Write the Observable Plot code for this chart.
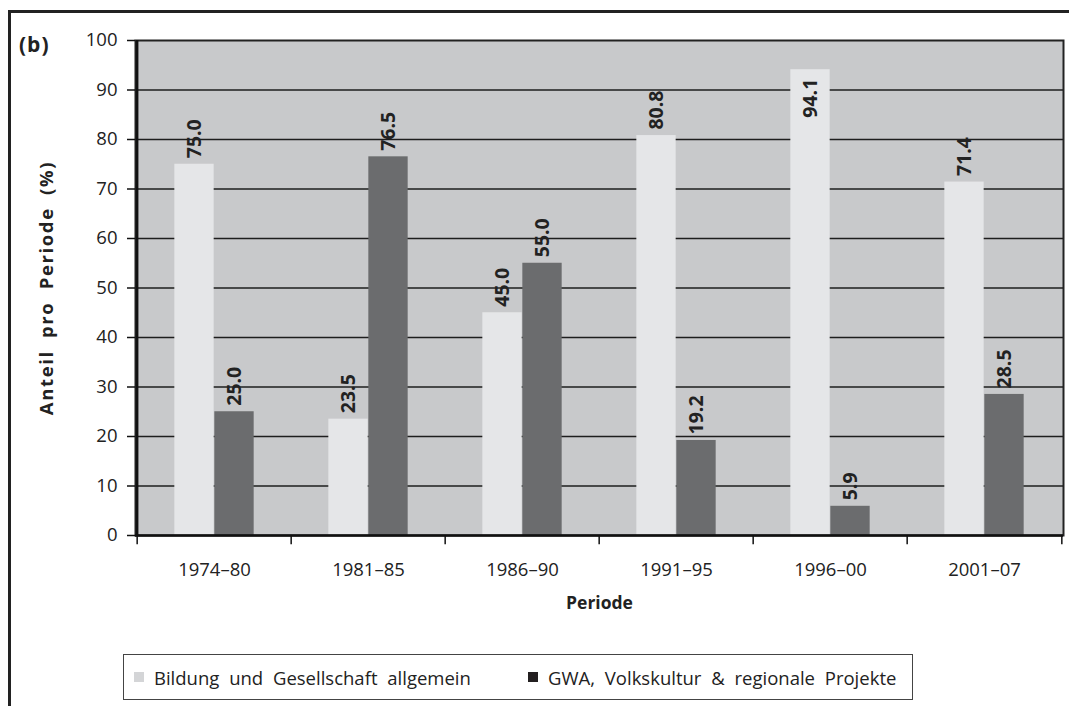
<!DOCTYPE html>
<html>
<head>
<meta charset="utf-8">
<script src="https://cdn.jsdelivr.net/npm/d3@7"></script>
<script src="https://cdn.jsdelivr.net/npm/@observablehq/plot@0.6"></script>
<style>
  html, body { margin: 0; padding: 0; background: #fff; }
  body { width: 1069px; height: 706px; position: relative; overflow: hidden; font-family: "Open Sans", sans-serif; color: #222; }
  #outer { position: absolute; left: 8px; top: 10px; width: 1069px; height: 700px; border-left: 3px solid #222; border-top: 3px solid #222; pointer-events: none; }
  #panel { position: absolute; left: 19px; top: 30px; font-weight: bold; font-size: 21px; letter-spacing: 1px; }
  #chart { position: absolute; left: 0; top: 0; }
  #legend { position: absolute; left: 123px; top: 654px; width: 790px; height: 46px; border: 1.5px solid #444; box-sizing: border-box; font-size: 18.5px; word-spacing: 5px; }
  .item { display: flex; align-items: center; position: absolute; top: 0; height: 100%; }
  .sw { width: 10px; height: 10px; margin-right: 10px; }
</style>
</head>
<body>
<div id="chart"></div>
<div id="outer"></div>
<div id="panel">(b)</div>
<div id="legend"></div>
<script>
const periods = ["1974–80", "1981–85", "1986–90", "1991–95", "1996–00", "2001–07"];
const bildung = [75.0, 23.5, 45.0, 80.8, 94.1, 71.4];
const gwa = [25.0, 76.5, 55.0, 19.2, 5.9, 28.5];
const labelsA = ["75.0", "23.5", "45.0", "80.8", "94.1", "71.4"];
const labelsB = ["25.0", "76.5", "55.0", "19.2", "5.9", "28.5"];
const seriesNames = ["Bildung und Gesellschaft allgemein", "GWA, Volkskultur & regionale Projekte"];
const seriesColors = ["#e5e6e8", "#6b6c6e"];
const legendColors = ["#d4d5d7", "#231f20"];
const yTicks = [0, 10, 20, 30, 40, 50, 60, 70, 80, 90, 100];
const gridTicks = [10, 20, 30, 40, 50, 60, 70, 80, 90];
const yTitle = "Anteil pro Periode (%)";
const xTitle = "Periode";

const dataA = periods.map((p, i) => ({period: p, value: bildung[i], label: labelsA[i]}));
const dataB = periods.map((p, i) => ({period: p, value: gwa[i], label: labelsB[i]}));
// labels that do not fit above the bar go inside it
const fitsAbove = d => d.value < 90;

const W = 1069, H = 640, mL = 135, mR = 6, mT = 40, mB = 105;
const step = (W - mL - mR) / periods.length;
const barW = 40;
const half = step / 2;

const labelStyle = {text: "label", rotate: -90, fontWeight: "bold", fontSize: 19.5, fill: "#222"};

const chart = Plot.plot({
  width: W, height: H,
  marginLeft: mL, marginRight: mR, marginTop: mT, marginBottom: mB,
  style: {fontFamily: "Open Sans", fontSize: "18.5px", color: "#222", background: "transparent", overflow: "visible"},
  x: {domain: periods, type: "band", paddingInner: 0, paddingOuter: 0, label: null},
  y: {domain: [0, 100], label: null},
  marks: [
    Plot.frame({fill: "#c8c9cb", stroke: null}),
    Plot.gridY(gridTicks, {stroke: "#1e1e1e", strokeOpacity: 1, strokeWidth: 1.3}),
    Plot.barY(dataA, {x: "period", y: "value", fill: seriesColors[0], insetLeft: half - barW, insetRight: half}),
    Plot.barY(dataB, {x: "period", y: "value", fill: seriesColors[1], insetLeft: half, insetRight: half - barW}),
    Plot.text(dataA.filter(fitsAbove), {x: "period", y: "value", dx: -barW / 2, dy: -6, textAnchor: "start", ...labelStyle}),
    Plot.text(dataA.filter(d => !fitsAbove(d)), {x: "period", y: "value", dx: -barW / 2, dy: 9, textAnchor: "end", ...labelStyle}),
    Plot.text(dataB.filter(fitsAbove), {x: "period", y: "value", dx: barW / 2, dy: -6, textAnchor: "start", ...labelStyle}),
    Plot.text(dataB.filter(d => !fitsAbove(d)), {x: "period", y: "value", dx: barW / 2, dy: 9, textAnchor: "end", ...labelStyle}),
    Plot.frame({stroke: "#222", strokeWidth: 2}),
    Plot.ruleY([0], {stroke: "#111", strokeWidth: 2.5}),
    Plot.ruleX([periods[0]], {dx: -half, stroke: "#111", strokeWidth: 2.5}),
    Plot.ruleX(periods, {x: d => d, dx: -half, y1: 0, y2: -1.85, stroke: "#111", strokeWidth: 1.5}),
    Plot.ruleX([periods[periods.length - 1]], {dx: half, y1: 0, y2: -1.85, stroke: "#111", strokeWidth: 1.5}),
    Plot.axisY(yTicks, {tickSize: 8, tickPadding: 10, stroke: "#111", strokeWidth: 1.5, label: null, fill: "#222"}),
    Plot.axisX({tickSize: 0, tickPadding: 27, label: null, fill: "#222"}),
    Plot.text([yTitle], {frameAnchor: "left", dx: -88, rotate: -90, fontWeight: "bold", fontSize: 18.5, fill: "#222", textAnchor: "middle"}),
    Plot.text([xTitle], {frameAnchor: "bottom", dy: 73, fontWeight: "bold", fontSize: 17.5, fill: "#222"})
  ]
});
document.getElementById("chart").append(chart);
d3.select(chart).selectAll("text").filter(function() { return this.textContent === yTitle; })
  .attr("letter-spacing", "1.6px").attr("word-spacing", "6px");

const legend = document.getElementById("legend");
const lefts = [10, 404];
seriesNames.forEach((name, i) => {
  const item = document.createElement("div");
  item.className = "item";
  item.style.left = lefts[i] + "px";
  const sw = document.createElement("span");
  sw.className = "sw";
  sw.style.background = legendColors[i];
  const t = document.createElement("span");
  t.textContent = name;
  item.append(sw, t);
  legend.append(item);
});
</script>
</body>
</html>
